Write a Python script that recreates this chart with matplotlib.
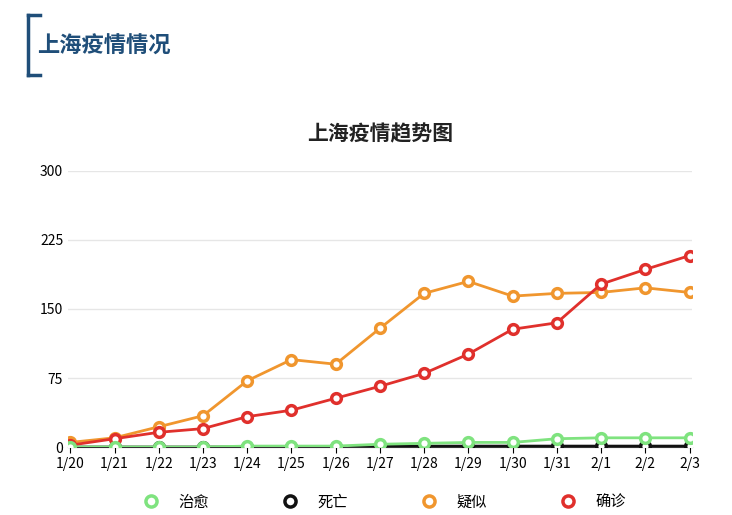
import matplotlib
matplotlib.use('Agg')
import matplotlib.pyplot as plt
from matplotlib.lines import Line2D

plt.rcParams['font.family'] = ['Noto Sans CJK SC', 'DejaVu Sans']

dates = ['1/20', '1/21', '1/22', '1/23', '1/24', '1/25', '1/26', '1/27',
         '1/28', '1/29', '1/30', '1/31', '2/1', '2/2', '2/3']
cured = [0, 0, 0, 0, 1, 1, 1, 3, 4, 5, 5, 9, 10, 10, 10]
dead = [0, 0, 0, 0, 0, 0, 0, 1, 1, 1, 1, 1, 1, 1, 1]
suspected = [5, 10, 22, 34, 72, 95, 90, 129, 167, 180, 164, 167, 168, 173, 168]
confirmed = [2, 9, 16, 20, 33, 40, 53, 66, 80, 101, 128, 135, 177, 193, 208]
yticks = [0, 75, 150, 225, 300]

series = [('治愈', cured, '#7fe37f', 5), ('死亡', dead, '#111111', 3),
          ('疑似', suspected, '#f0962e', 4), ('确诊', confirmed, '#e0302c', 4)]

fig = plt.figure(figsize=(7.32, 5.15), dpi=100)
ax = fig.add_axes([0.093, 0.132, 0.852, 0.536])
x = list(range(len(dates)))
for name, vals, col, z in series:
    ax.plot(x, vals, color=col, lw=2, marker='o', ms=7, mfc='white',
            mec=col, mew=2.5, label=name, zorder=z)

ax.set_xlim(-0.05, len(dates) - 0.95)
ax.set_ylim(0, 300)
ax.set_yticks(yticks)
ax.set_xticks(x)
ax.set_xticklabels(dates, fontsize=10)
ax.tick_params(axis='y', length=0, labelsize=10)
ax.tick_params(axis='x', length=4)
ax.grid(axis='y', color='#e6e6e6', lw=1)
ax.set_axisbelow(True)
for s in ['top', 'right', 'left']:
    ax.spines[s].set_visible(False)
ax.spines['bottom'].set_color('#333333')

fig.text(0.52, 0.74, '上海疫情趋势图', ha='center', va='center',
         fontsize=15, fontweight='bold', color='#222222')

handles = [Line2D([], [], ls='none', marker='o', ms=8, mfc='white', mec=c, mew=2.5)
           for _, _, c, _ in series]
fig.legend(handles, [s[0] for s in series], loc='center', bbox_to_anchor=(0.52, 0.025),
           ncol=4, frameon=False, fontsize=11, columnspacing=4.3, handletextpad=0.8)

# header with bracket
fig.add_artist(Line2D([0.038, 0.038], [0.855, 0.97], color='#1f4e79', lw=2.5))
fig.add_artist(Line2D([0.038, 0.055], [0.97, 0.97], color='#1f4e79', lw=2.5))
fig.add_artist(Line2D([0.038, 0.055], [0.855, 0.855], color='#1f4e79', lw=2.5))
fig.text(0.05, 0.91, '上海疫情情况', ha='left', va='center', fontsize=16,
         fontweight='bold', color='#1f4e79')

fig.savefig('out.png')
